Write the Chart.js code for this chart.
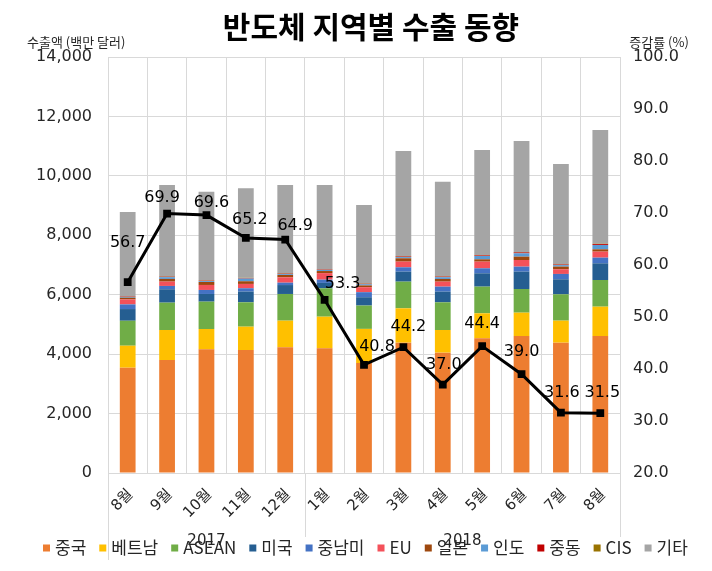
<!DOCTYPE html>
<html>
<head>
<meta charset="utf-8">
<script src="https://cdn.jsdelivr.net/npm/chart.js@4/dist/chart.umd.min.js"></script>
<style>
  body { margin: 0; background: #fff; }
  #wrap { width: 712px; height: 571px; }
</style>
</head>
<body>
<div id="wrap"><canvas id="chart" width="712" height="571"></canvas></div>
<script>
const months = ['8월', '9월', '10월', '11월', '12월', '1월', '2월', '3월', '4월', '5월', '6월', '7월', '8월'];
const years = ['2017', '2018'];
const yearSpans = [5, 8]; // number of months under each year

const seriesNames = ['중국', '베트남', 'ASEAN', '미국', '중남미', 'EU', '일본', '인도', '중동', 'CIS', '기타'];
const seriesColors = ['#ED7D31', '#FFC000', '#70AD47', '#255E91', '#4472C4', '#F4515A', '#9E480E', '#5B9BD5', '#C00000', '#997300', '#A5A5A5'];

const china   = [3544, 3803, 4163, 4140, 4230, 4197, 3700, 4386, 4050, 4533, 4611, 4386, 4611];
const vietnam = [740, 1010, 684, 785, 897, 1064, 1150, 1157, 763, 842, 785, 741, 987];
const asean   = [840, 920, 920, 820, 898, 956, 785, 897, 931, 897, 797, 887, 898];
const usa     = [393, 450, 258, 360, 300, 180, 280, 337, 360, 449, 584, 505, 561];
const latam   = [157, 112, 135, 112, 80, 110, 170, 146, 168, 168, 168, 180, 191];
const eu      = [168, 146, 168, 146, 180, 220, 168, 191, 168, 224, 224, 157, 202];
const japan   = [56, 90, 100, 90, 78, 70, 60, 112, 90, 78, 112, 90, 78];
const india   = [30, 60, 30, 90, 30, 40, 40, 40, 60, 112, 112, 50, 146];
const mideast = [15, 15, 15, 15, 15, 15, 15, 20, 20, 20, 30, 20, 30];
const cis     = [10, 10, 10, 10, 10, 10, 10, 10, 10, 10, 10, 10, 10];
const others  = [2830, 3080, 2985, 3015, 2975, 2830, 2640, 3540, 3185, 3540, 3740, 3375, 3830];

const growth = [56.7, 69.9, 69.6, 65.2, 64.9, 53.3, 40.8, 44.2, 37.0, 44.4, 39.0, 31.6, 31.5];

const seriesValues = [china, vietnam, asean, usa, latam, eu, japan, india, mideast, cis, others];

// small nudges for the growth labels, like the hand placed ones in the original
const labelNudge = [[0, -39], [-5, -16], [5, -12], [4, -18], [10, -14], [18, -16], [13, -18],
                    [5, -20], [1, -20], [0, -22], [0, -22], [1, -20], [2, -20]];

const textColor = '#262626';
const numFont = 'DejaVu Sans';
const krFont = 'Noto Sans CJK KR';

const overlay = {
    id: 'overlay',
    afterDatasetsDraw(chart) {
        const ctx = chart.ctx;
        const meta = chart.getDatasetMeta(chart.data.datasets.length - 1);
        ctx.save();
        ctx.font = '16px "' + numFont + '"';
        ctx.fillStyle = '#000';
        ctx.textAlign = 'center';
        ctx.textBaseline = 'middle';
        meta.data.forEach((pt, i) => {
            const n = labelNudge[i];
            ctx.fillText(growth[i].toFixed(1), pt.x + n[0], pt.y + n[1]);
        });
        ctx.restore();
    },
    afterDraw(chart) {
        const ctx = chart.ctx;
        const area = chart.chartArea;
        ctx.save();

        // title
        ctx.fillStyle = '#000';
        ctx.textAlign = 'center';
        ctx.textBaseline = 'middle';
        ctx.font = '700 30px "' + krFont + '"';
        ctx.fillText('반도체 지역별 수출 동향', 371, 27);

        // axis titles
        ctx.font = '13px "' + krFont + '"';
        ctx.fillStyle = textColor;
        ctx.textAlign = 'left';
        ctx.fillText('수출액 (백만 달러)', 27, 42);
        ctx.textAlign = 'center';
        ctx.fillText('증감률 (%)', 659, 42);

        // year separators under the category axis
        const step = (area.right - area.left) / months.length;
        ctx.strokeStyle = '#d9d9d9';
        ctx.lineWidth = 1;
        let start = 0;
        const edges = [area.left];
        yearSpans.forEach(s => { start += s; edges.push(area.left + start * step); });
        edges.forEach((ex, i) => {
            const px = Math.round(ex) + 0.5;
            ctx.beginPath();
            ctx.moveTo(px, area.bottom);
            ctx.lineTo(px, i === 0 ? 560 : 537);
            ctx.stroke();
        });

        // year labels
        ctx.font = '15px "' + numFont + '"';
        ctx.fillStyle = textColor;
        ctx.textAlign = 'center';
        years.forEach((y, i) => {
            ctx.fillText(y, (edges[i] + edges[i + 1]) / 2, 541);
        });

        // legend
        ctx.font = '17px "' + krFont + '"';
        ctx.textAlign = 'left';
        let lx = 43;
        const ly = 548;
        seriesNames.forEach((name, i) => {
            ctx.fillStyle = seriesColors[i];
            ctx.fillRect(lx, ly - 3.5, 7, 7);
            ctx.fillStyle = textColor;
            ctx.fillText(name, lx + 12, ly);
            lx += 12 + ctx.measureText(name).width + 13;
        });
        ctx.restore();
    }
};

const datasets = seriesNames.map((name, i) => ({
    type: 'bar',
    label: name,
    data: seriesValues[i],
    backgroundColor: seriesColors[i],
    yAxisID: 'y',
    stack: 'regions',
    order: 1,
    categoryPercentage: 1.0,
    barPercentage: 0.4
}));

datasets.push({
    type: 'line',
    label: '증감률',
    data: growth,
    yAxisID: 'y1',
    borderColor: '#000',
    backgroundColor: '#000',
    borderWidth: 3,
    pointStyle: 'rect',
    pointRadius: 5.5,
    pointBorderWidth: 0,
    tension: 0,
    order: 0
});

new Chart(document.getElementById('chart'), {
    data: { labels: months, datasets: datasets },
    options: {
        responsive: false,
        animation: false,
        layout: { padding: { top: 57, left: 0, right: 0, bottom: 0 } },
        plugins: {
            legend: { display: false },
            tooltip: { enabled: false }
        },
        scales: {
            x: {
                stacked: true,
                grid: { offset: true, color: '#d9d9d9', drawTicks: false },
                border: { color: '#d9d9d9' },
                ticks: {
                    autoSkip: false,
                    minRotation: 45,
                    maxRotation: 45,
                    padding: 13,
                    labelOffset: 3,
                    color: textColor,
                    font: { family: numFont + ', ' + krFont, size: 15 }
                },
                afterFit(scale) { scale.height = 98; }
            },
            y: {
                position: 'left',
                stacked: true,
                min: 0,
                max: 14000,
                grid: { color: '#d9d9d9', drawTicks: false },
                border: { display: false },
                ticks: {
                    stepSize: 2000,
                    padding: 16,
                    color: textColor,
                    font: { family: numFont, size: 16 },
                    callback: v => v.toLocaleString('en-US')
                },
                afterFit(scale) { scale.width = 108; }
            },
            y1: {
                position: 'right',
                min: 20,
                max: 100,
                grid: { display: false, drawTicks: false },
                border: { display: false },
                ticks: {
                    stepSize: 10,
                    padding: 13,
                    color: textColor,
                    font: { family: numFont, size: 16 },
                    callback: v => v.toFixed(1)
                },
                afterFit(scale) { scale.width = 92; }
            }
        }
    },
    plugins: [overlay]
});
</script>
</body>
</html>
